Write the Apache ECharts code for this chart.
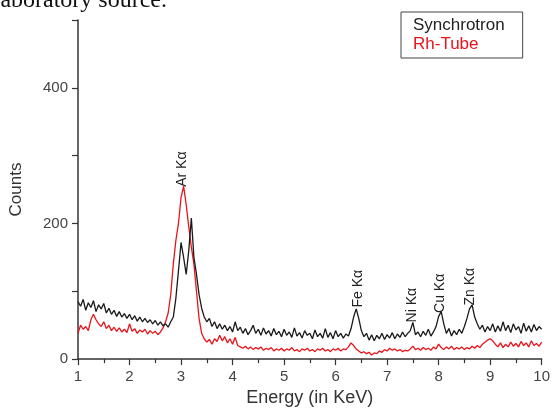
<!DOCTYPE html>
<html>
<head>
<meta charset="utf-8">
<script src="https://cdn.jsdelivr.net/npm/echarts@6/dist/echarts.min.js"></script>
<style>
  html, body { margin: 0; padding: 0; background: #fff; }
  #myChart { width: 553px; height: 412px; }
</style>
</head>
<body>
<div id="myChart"></div>
<script>
// energy grid: 1.00 .. 10.00 keV, one reading every 0.05 keV
var energyStart = 1.0;
var energyStep = 0.05;

// Synchrotron counts (black)
var synchrotron = [
  85, 78, 88, 72, 83, 76, 86, 70, 80, 74,
  82, 68, 75, 66, 72, 63, 70, 62, 67, 60,
  66, 58, 64, 56, 62, 55, 60, 54, 58, 52,
  57, 50, 55, 49, 52, 47, 55, 62, 90, 130,
  172, 150, 125, 160, 208, 150, 125, 95, 75, 62,
  55, 60, 48, 55, 45, 52, 44, 50, 42, 48,
  40, 55, 42, 47, 38, 45, 36, 42, 50, 38,
  44, 35, 46, 37, 42, 34, 45, 36, 41, 33,
  44, 35, 40, 32, 46, 34, 39, 31, 42, 35,
  38, 30, 43, 33, 38, 31, 45, 32, 39, 30,
  42, 33, 38, 31, 37, 34, 45, 62, 74, 60,
  42, 33, 38, 28, 36, 27, 35, 30, 38, 29,
  36, 31, 39, 30, 37, 32, 40, 33, 38, 42,
  54, 36, 40, 33, 41, 35, 44, 34, 40, 48,
  63, 70, 52, 38, 45, 34, 42, 36, 44, 38,
  48, 60, 74, 80, 62, 52, 44, 50, 40, 48,
  42, 52, 40, 49, 41, 55, 42, 50, 39, 52,
  43, 48, 38, 53, 41, 49, 40, 51, 42, 48,
  44
];

// Rh-Tube counts (red)
var rhTube = [
  38, 50, 44, 48, 42, 58, 66, 58, 52, 48,
  55, 45, 50, 42, 47, 41, 46, 40, 44, 39,
  52, 41, 45, 38, 43, 40, 44, 37, 42, 38,
  41, 36, 40, 46, 55, 68, 95, 140, 175, 200,
  238, 255, 228, 195, 165, 140, 100, 60, 38, 30,
  25, 29, 22, 30, 26, 35, 27, 33, 24, 30,
  22, 32, 20, 18, 16, 19, 15, 18, 14, 17,
  15, 18, 13, 16, 14, 17, 12, 15, 13, 16,
  12, 15, 13, 17, 12, 14, 11, 15, 13, 16,
  12, 14, 11, 15, 13, 16, 12, 14, 11, 15,
  13, 16, 12, 15, 14, 18, 24, 20, 15, 12,
  9, 11, 8, 10, 6, 9, 8, 12, 10, 14,
  12, 16, 13, 15, 12, 14, 11, 13, 12, 15,
  19, 14, 16, 13, 17, 14, 16, 13, 18, 15,
  22, 17, 14, 18, 15, 19, 14, 17, 15, 18,
  14, 17, 15, 19, 16, 20, 17, 22, 25, 28,
  30, 27, 22, 18, 24, 17, 22, 18, 25, 19,
  23, 18, 26, 20, 24, 18, 27, 20, 23, 19,
  25
];

// peak annotations (energy, count at the foot of the label)
var peakNames = ['Ar K\u03b1', 'Fe K\u03b1', 'Ni K\u03b1', 'Cu K\u03b1', 'Zn K\u03b1'];
var peakEnergies = [3.03, 6.43, 7.49, 8.03, 8.61];
var peakCounts = [254, 76, 54, 68, 79];

var yLabels = [0, 200, 400];

function pairs(values) {
  return values.map(function (v, i) {
    return [+(energyStart + i * energyStep).toFixed(2), v];
  });
}

var myChart = echarts.init(document.getElementById('myChart'));
var font = '"Liberation Sans", Arial, sans-serif';

var option = {
  animation: false,
  backgroundColor: '#fff',
  textStyle: { fontFamily: font },
  grid: { left: 78, right: 8, top: 20, bottom: 49 },
  legend: {
    left: 401,
    top: 12,
    orient: 'vertical',
    icon: 'none',
    itemWidth: 0,
    itemHeight: 10,
    itemGap: 2,
    padding: [5, 18, 5, 7],
    borderColor: '#444',
    borderWidth: 1,
    selectedMode: false,
    textStyle: { fontSize: 17, fontFamily: font },
    data: [
      { name: 'Synchrotron', textStyle: { color: '#222' } },
      { name: 'Rh-Tube', textStyle: { color: '#e8141b' } }
    ]
  },
  xAxis: {
    type: 'value',
    min: 1,
    max: 10,
    interval: 1,
    name: 'Energy (in KeV)',
    nameLocation: 'middle',
    nameGap: 28,
    nameTextStyle: { fontSize: 18, color: '#333', fontFamily: font },
    axisLine: { lineStyle: { color: '#333', width: 1.5 } },
    axisTick: { length: 6, lineStyle: { color: '#333', width: 1.2 } },
    minorTick: { show: true, splitNumber: 2, length: 4, lineStyle: { color: '#333', width: 1.2 } },
    axisLabel: { fontSize: 15, color: '#444', margin: 10 },
    splitLine: { show: false }
  },
  yAxis: {
    type: 'value',
    min: 0,
    max: 500,
    interval: 100,
    name: 'Counts',
    nameLocation: 'middle',
    nameGap: 53,
    nameTextStyle: { fontSize: 17, color: '#333', fontFamily: font },
    axisLine: { show: true, lineStyle: { color: '#333', width: 1.5 } },
    axisTick: { show: true, length: 6, lineStyle: { color: '#333', width: 1.2 } },
    axisLabel: {
      fontSize: 15,
      color: '#444',
      margin: 10,
      formatter: function (v) { return yLabels.indexOf(v) >= 0 ? String(v) : ''; }
    },
    splitLine: { show: false }
  },
  series: [
    {
      name: 'Synchrotron',
      type: 'line',
      showSymbol: false,
      color: '#1a1a1a',
      lineStyle: { color: '#1a1a1a', width: 1.3 },
      data: pairs(synchrotron),
      z: 3
    },
    {
      name: 'Rh-Tube',
      type: 'line',
      showSymbol: false,
      color: '#e8141b',
      lineStyle: { color: '#e8141b', width: 1.3 },
      data: pairs(rhTube),
      z: 2
    }
  ]
};
myChart.setOption(option);

// rotated peak labels placed through the axes' own scales
var labels = peakNames.map(function (name, i) {
  var p = myChart.convertToPixel({ gridIndex: 0 }, [peakEnergies[i], peakCounts[i]]);
  return {
    type: 'text',
    x: p[0],
    y: p[1],
    rotation: Math.PI / 2,
    style: {
      text: name,
      fontSize: 14,
      fontFamily: font,
      fill: '#222',
      align: 'left',
      verticalAlign: 'middle'
    },
    z: 10
  };
});
labels.push({
  type: 'text',
  x: 167,
  y: 13,
  style: {
    text: 'laboratory source.',
    fontSize: 24,
    fontFamily: '"Liberation Serif", "Times New Roman", serif',
    fill: '#111',
    align: 'right',
    verticalAlign: 'bottom'
  }
});
myChart.setOption({ graphic: labels });
window.onresize = myChart.resize;
</script>
</body>
</html>
